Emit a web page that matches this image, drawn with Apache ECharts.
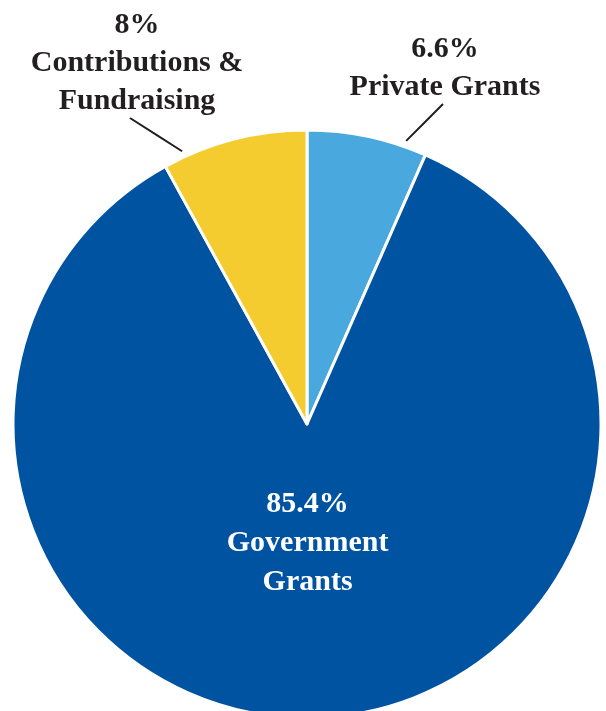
<!DOCTYPE html>
<html>
<head>
<meta charset="utf-8">
<script src="https://cdn.jsdelivr.net/npm/echarts@6/dist/echarts.min.js"></script>
<style>html,body{margin:0;padding:0;background:#fff;}#c{width:606px;height:711px;}</style>
</head>
<body>
<div id="c"></div>
<script>
const categories = ['Private Grants', 'Government\nGrants', 'Contributions &\nFundraising'];
const values = [6.6, 85.4, 8];
const colors = ['#49A9DF', '#0053A0', '#F4CC30'];
// label centre [x, y], leader-line start angle (deg from top, clockwise), end offset x
const labelSpots = [[445, 68, 19.3, -2], null, [137, 63, -24.6, -7]];

const W = 606, H = 711;
const CX = 307, CY = 424, R = 294;
const chart = echarts.init(document.getElementById('c'));
const font = '"Liberation Serif", "Times New Roman", serif';
chart.setOption({
  animation: false,
  series: [{
    type: 'pie',
    center: [CX, CY],
    radius: [0, R],
    startAngle: 90,
    clockwise: true,
    itemStyle: { borderColor: '#fff', borderWidth: 3 },
    label: {
      show: true,
      position: 'outside',
      formatter: p => p.value + '%\n' + p.name,
      fontFamily: font,
      fontWeight: 'bold',
      fontSize: 30,
      lineHeight: 38,
      color: '#231F20',
      align: 'center'
    },
    labelLine: { show: true, length: 20, length2: 0, lineStyle: { color: '#231F20', width: 2 } },
    labelLayout: function (params) {
      const s = labelSpots[params.dataIndex];
      if (!s) return {};
      const h = params.labelRect.height;
      const a = s[2] * Math.PI / 180;
      const sx = CX + (R + 6) * Math.sin(a), sy = CY - (R + 6) * Math.cos(a);
      const ex = s[0] + s[3], ey = s[1] + h / 2 - 2;
      return {
        x: s[0], y: s[1], align: 'center', verticalAlign: 'middle',
        labelLinePoints: [[sx, sy], [(sx + ex) / 2, (sy + ey) / 2], [ex, ey]]
      };
    },
    data: categories.map((c, i) => {
      const d = { name: c, value: values[i], itemStyle: { color: colors[i] } };
      if (i === 1) {
        d.label = { position: 'inside', color: '#fff', lineHeight: 39, offset: [-6, -31] };
        d.labelLine = { show: false };
      }
      return d;
    })
  }]
});
</script>
</body>
</html>
